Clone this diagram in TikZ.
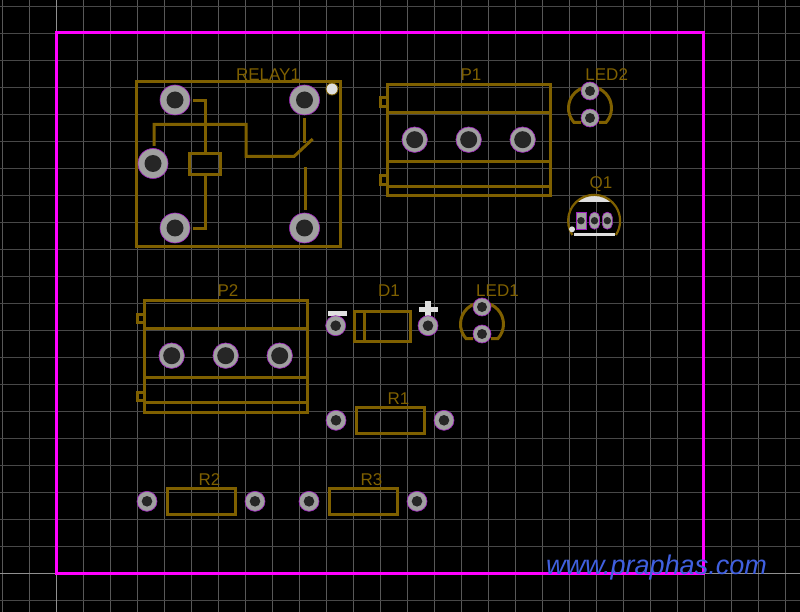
\documentclass[tikz,border=0pt]{standalone}
\usepackage{fontspec}
\setmainfont{Liberation Sans}
\definecolor{silkcolor}{HTML}{7F6000}
\definecolor{boardcolor}{HTML}{FF00FF}
\definecolor{gridcolor}{HTML}{585858}
\definecolor{gridline}{HTML}{484848}
\definecolor{axiscolor}{HTML}{909090}
\definecolor{padcolor}{HTML}{A0A0A0}
\definecolor{holecolor}{HTML}{262626}
\definecolor{padedge}{HTML}{A020C0}
\definecolor{markcolor}{HTML}{E0E0E0}
\definecolor{webcolor}{HTML}{4060E0}
\tikzset{
  silk/.style={draw=silkcolor,line width=3pt},
  padround/.style 2 args={circle,draw=padedge,line width=0.6pt,fill=padcolor,inner sep=0pt,
    minimum size=#1,path picture={\fill[holecolor] (path picture bounding box.center) circle (#2);}},
  padrelay/.style={padround={30pt}{8.5pt}},
  padblock/.style={padround={25.5pt}{8.5pt}},
  padled/.style={padround={18pt}{5pt}},
  padpart/.style={padround={20pt}{5.3pt}},
  padq/.style={draw=padedge,line width=0.6pt,fill=padcolor,inner sep=0pt,minimum width=10pt,minimum height=17pt,
    path picture={\fill[holecolor] (path picture bounding box.center) circle (3.7pt);}},
  partname/.style={text=silkcolor,font=\fontsize{17}{17}\selectfont,anchor=base},
}
\begin{document}
\begin{tikzpicture}[x=1pt,y=-1pt]
        \useasboundingbox[fill=black] (0,0) rectangle (800,612);

        % grid
        \foreach \k in {0,...,29} {
          \draw[gridcolor,line width=1pt] (2+27*\k,0) -- (2+27*\k,612);
        }
        \foreach \k in {0,...,22} {
          \draw[gridline,line width=1pt] (0,6.5+27*\k) -- (800,6.5+27*\k);
        }
        \draw[axiscolor,line width=1pt] (56.5,0) -- (56.5,612);
        \draw[axiscolor,line width=1pt] (0,573.5) -- (800,573.5);

        % board outline
        \draw[boardcolor,line width=3pt] (56,33) rectangle (703.5,573);

        % relay
        \draw[silk] (136.5,81.5) rectangle (340,246.5);
        \draw[silk] (189.5,153.5) rectangle (220,174.5);
        \draw[silk] (193,100.5) -- (205,100.5) -- (205,153);
        \draw[silk] (205,175) -- (205,228.5) -- (193,228.5);
        \draw[silk] (154,146) -- (154,124.5) -- (246,124.5) -- (246,156.5) -- (294,156.5) -- (312.7,139);
        \draw[silk] (304.5,118) -- (304.5,143);
        \draw[silk] (305,167) -- (305,210);
        \node[padrelay] (relayA) at (175,100) {};
        \node[padrelay] (relayB) at (304.5,100) {};
        \node[padrelay] (relayC) at (153,163.5) {};
        \node[padrelay] (relayD) at (175,228) {};
        \node[padrelay] (relayE) at (304.5,228) {};
        \node[circle,draw=silkcolor,line width=0.8pt,fill=markcolor,inner sep=0pt,minimum size=12pt] (relayDot) at (332,89) {};
        \node[partname] (relayName) at (268,81) {RELAY1};

        % terminal blocks
        \foreach \dx/\dy/\nm in {0/0/P1,-243/216/P2} {
          \begin{scope}[shift={(\dx,\dy)}]
            \draw[silk] (387.5,84.5) rectangle (550,196);
            \draw[silk] (387.5,112.5) -- (550,112.5);
            \draw[silk] (387.5,161.5) -- (550,161.5);
            \draw[silk] (387.5,186.5) -- (550,186.5);
            \draw[silk] (387.5,98) -- (380,98) -- (380,106.5) -- (387.5,106.5);
            \draw[silk] (387.5,176) -- (380,176) -- (380,184.5) -- (387.5,184.5);
            \node[padblock] (\nm a) at (414.7,139.7) {};
            \node[padblock] (\nm b) at (468.7,139.7) {};
            \node[padblock] (\nm c) at (522.7,139.7) {};
            \node[partname] (\nm name) at (471,80.7) {\nm};
          \end{scope}
        }

        % leds
        \foreach \dx/\dy/\nm/\tx in {0/0/LED2/606.7,-108/216/LED1/605.5} {
          \begin{scope}[shift={(\dx,\dy)}]
            \draw[silk] (581,122.5) -- (574,122.5) arc[start angle=222,end angle=-42,radius=21.5pt] -- (599,122.5);
            \node[padled] (\nm a) at (590,91) {};
            \node[padled] (\nm b) at (590,118) {};
            \node[partname] (\nm name) at (\tx,80.7) {\nm};
          \end{scope}
        }

        % transistor
        \fill[markcolor] (576.6,202) arc[start angle=133,end angle=47,radius=26pt] -- cycle;
        \draw[silkcolor,line width=2.2pt] (572.3,235) arc[start angle=213,end angle=-33,radius=26pt];
        \draw[markcolor,line width=3pt] (574,234.5) -- (615,234.5);
        \node[padq,rectangle] (qA) at (581,220.7) {};
        \node[padq,rounded corners=5pt] (qB) at (594.5,220.7) {};
        \node[padq,rounded corners=5pt] (qC) at (607.3,220.7) {};
        \node[circle,fill=markcolor,inner sep=0pt,minimum size=6pt] (qDot) at (572,229.3) {};
        \node[partname] (qName) at (601,188.3) {Q1};

        % diode
        \draw[silk] (354.5,311.5) rectangle (410,341);
        \draw[silk] (364.5,311.5) -- (364.5,341);
        \fill[markcolor] (328,310.7) rectangle (346.7,315.7);
        \fill[markcolor] (418.5,306.5) rectangle (437.5,312);
        \fill[markcolor] (425,301) rectangle (430.5,316);
        \node[padpart] (diodeA) at (335.7,325.7) {};
        \node[padpart] (diodeB) at (428,325.7) {};
        \node[partname] (diodeName) at (389,296.7) {D1};

        % resistors
        \foreach \dx/\dy/\nm in {0/0/R1,-189/81/R2,-27/81/R3} {
          \begin{scope}[shift={(\dx,\dy)}]
            \draw[silk] (356.5,407.5) rectangle (424,433);
            \node[padpart] (\nm a) at (336,420.3) {};
            \node[padpart] (\nm b) at (444,420.3) {};
            \node[partname] (\nm name) at (398.5,404.8) {\nm};
          \end{scope}
        }

        \node[text=webcolor,font=\fontsize{27}{27}\selectfont\itshape,anchor=base west,inner sep=0pt] (webName) at (546,574) {www.praphas.com};
\end{tikzpicture}
\end{document}
